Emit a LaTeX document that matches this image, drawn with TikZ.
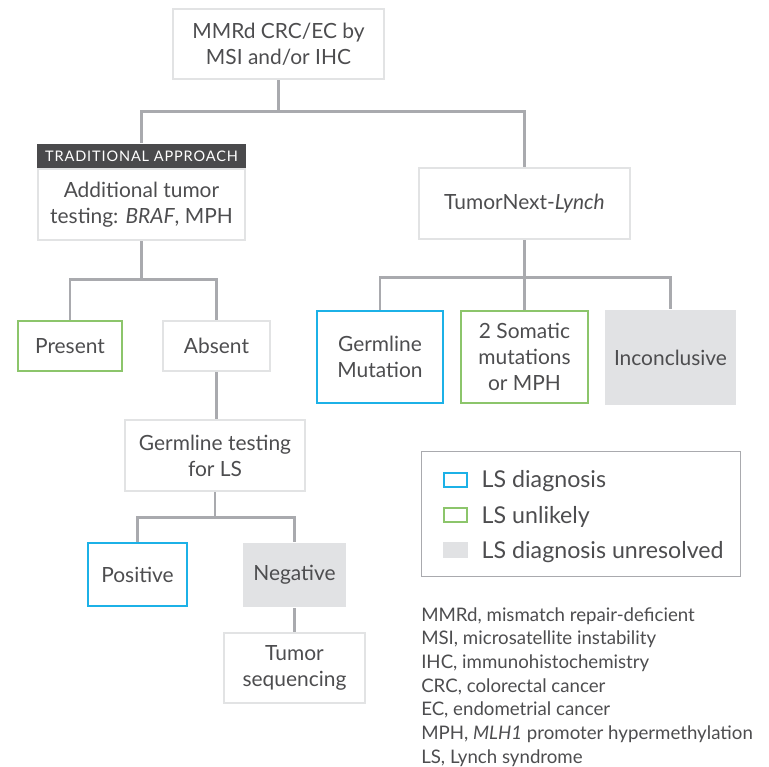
\documentclass[tikz,border=0pt]{standalone}
\usepackage{fontspec}
\setmainfont{Lato}
\newfontfamily\headfont[LetterSpace=6]{Lato}
\definecolor{txt}{HTML}{4D4D4F}
\definecolor{conn}{HTML}{A9AAAE}
\definecolor{plain}{HTML}{E2E3E4}
\definecolor{lsblue}{HTML}{1CB1E7}
\definecolor{lsgreen}{HTML}{8CC56B}
\definecolor{unres}{HTML}{E1E2E4}
\definecolor{head}{HTML}{4A4A4C}
\begin{document}
\begin{tikzpicture}[x=0.75pt,y=-0.75pt,
    sz/.style 2 args={minimum width=#1*0.75pt,minimum height=#2*0.75pt},
    box/.style={rectangle,draw=plain,line width=2.2pt,text=txt,align=center,inner sep=0pt,
      font=\fontsize{15.7}{19.5}\selectfont},
    diag/.style={box,draw=lsblue},
    unlikely/.style={box,draw=lsgreen},
    unresolved/.style={box,draw=none,fill=unres},
    link/.style={draw=conn,line width=1.9pt}]

      \useasboundingbox (0,0) rectangle (769,767);

      \begin{scope}
        \node[box,sz={211}{70}] (mmrd) at (278.5,44) {MMRd CRC/EC by\\MSI and/or IHC};
        \node[box,draw=none,fill=head,text=white,sz={209}{24},
          font=\headfont\fontsize{10.9}{12}\selectfont] (tradhead) at (141.5,156) {TRADITIONAL APPROACH};
        \node[box,sz={207}{71}] (trad) at (141.5,204.5) {Additional tumor\\testing: \textit{BRAF}, MPH};
        \node[box,sz={211}{71}] (lynch) at (524.5,203.5) {TumorNext-\textit{Lynch}};
        \node[unlikely,sz={104}{50}] (present) at (70,346) {Present};
        \node[box,sz={107}{50}] (absent) at (216.5,346) {Absent};
        \node[box,sz={180}{71}] (germtest) at (215,455.5) {Germline testing\\for LS};
        \node[diag,sz={99}{63}] (positive) at (137.5,574.5) {Positive};
        \node[unresolved,sz={103}{64}] (negative) at (294.5,575) {Negative};
        \node[box,sz={141}{70}] (tumorseq) at (294.5,668) {Tumor\\sequencing};
        \node[diag,sz={126}{92}] (germmut) at (380,357) {Germline\\Mutation};
        \node[unlikely,sz={127}{92}] (somatic) at (524.5,357) {2 Somatic\\mutations\\or MPH};
        \node[unresolved,sz={131}{95}] (inconcl) at (670.5,357.5) {Inconclusive};
      \end{scope}

      \begin{scope}[every path/.style={link}]
        \path (mmrd.south) -- ++(0,31) -| (tradhead.north);
        \path (mmrd.south) -- ++(0,31) -| (lynch.north);
        \path (trad.south) -- ++(0,38) -| (present.north);
        \path (trad.south) -- ++(0,38) -| (absent.north);
        \path (absent.south) -- (absent.south |- germtest.north);
        \path (germtest.south) -- ++(0,25) -| (positive.north);
        \path (germtest.south) -- ++(0,25) -| (negative.north);
        \path (negative.south) -- (tumorseq.north);
        \path (lynch.south) -- ++(0,37) -| (germmut.north);
        \path (lynch.south) -- (somatic.north);
        \path (lynch.south) -- ++(0,37) -| (inconcl.north);
      \end{scope}

      \begin{scope}[every node/.style={text=txt,anchor=west,font=\fontsize{17.4}{20}\selectfont}]
        \node[draw=conn,line width=1pt,sz={319}{125},anchor=center] (legend) at (581,514) {};
        \node[diag,line width=1.8pt,sz={23}{14},anchor=center] (keydiag) at (455.5,480) {};
        \node[unlikely,line width=1.8pt,sz={23}{14},anchor=center] (keyunl) at (455.5,515) {};
        \node[unresolved,sz={25}{16},anchor=center] (keyunr) at (455.5,550) {};
        \node (ldiag) at (477,481) {LS diagnosis};
        \node (lunl) at (477,517) {LS unlikely};
        \node (lunr) at (477,552) {LS diagnosis unresolved};
      \end{scope}

      \node[text=txt,anchor=north west,align=left,inner sep=0pt,font=\fontsize{14}{17.8}\selectfont] (abbrev) at (421,607)
        {MMRd, mismatch repair-deficient\\
         MSI, microsatellite instability\\
         IHC, immunohistochemistry\\
         CRC, colorectal cancer\\
         EC, endometrial cancer\\
         MPH, \textit{MLH1} promoter hypermethylation\\
         LS, Lynch syndrome};

    \end{tikzpicture}
\end{document}
